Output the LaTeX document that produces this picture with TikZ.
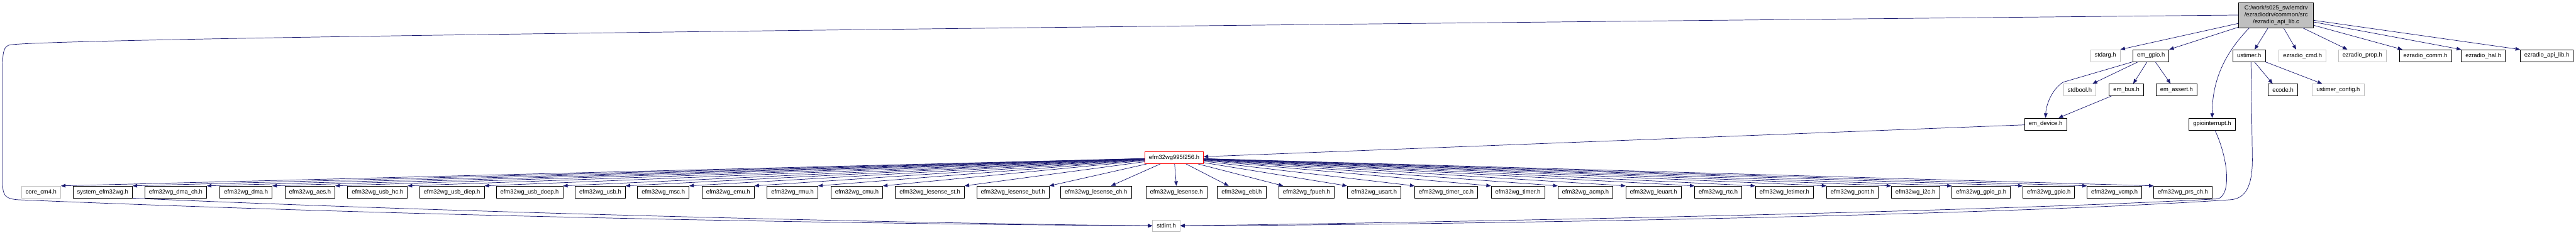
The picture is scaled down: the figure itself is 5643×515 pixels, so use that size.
\documentclass[tikz,border=0pt]{standalone}
\usepackage{fontspec}
\setmainfont{Liberation Sans}
\usetikzlibrary{arrows.meta}
\definecolor{edgeblue}{HTML}{191970}
\definecolor{boxgray}{HTML}{BFBFBF}

\begin{document}
\begin{tikzpicture}[x=1pt,y=-1pt]
\tikzstyle{every node}=[font=\fontsize{13}{15}\selectfont]
\tikzstyle{file}=[draw=black, fill=white, line width=1pt, minimum height=26pt, inner xsep=9pt, inner ysep=2pt]
\tikzstyle{extfile}=[file, draw=boxgray]
\tikzstyle{dep}=[draw=edgeblue, line width=1pt, -{Triangle[length=10pt,width=8pt]}]
\useasboundingbox (0,0) rectangle (5643,515);

% top file and what it includes
\node[file, fill=boxgray, align=center, minimum width=164pt, minimum height=55pt] (root) at (4986,33) {C:/work/s025\_sw/emdrv\\/ezradiodrv/common/src\\/ezradio\_api\_lib.c};
\node[extfile] (stdarg) at (4612,122) {stdarg.h};
\node[file] (emgpio) at (4712,122) {em\_gpio.h};
\node[file] (ustimer) at (4927,122) {ustimer.h};
\node[extfile] (ezcmd) at (5044,122) {ezradio\_cmd.h};
\node[extfile] (ezprop) at (5175,122) {ezradio\_prop.h};
\node[file] (ezcomm) at (5313,122) {ezradio\_comm.h};
\node[file] (ezhal) at (5440,122) {ezradio\_hal.h};
\node[file] (ezapi) at (5579,122) {ezradio\_api\_lib.h};

\node[extfile] (stdbool) at (4556,197) {stdbool.h};
\node[file] (embus) at (4658,197) {em\_bus.h};
\node[file] (emassert) at (4768,197) {em\_assert.h};
\node[file] (ecode) at (5001,197) {ecode.h};
\node[extfile] (ustcfg) at (5122,197) {ustimer\_config.h};

\node[file] (emdevice) at (4481,272) {em\_device.h};
\node[file] (gpioint) at (4846,272) {gpiointerrupt.h};

\node[file, draw=red] (efmdev) at (2572,346) {efm32wg995f256.h};

% device headers
\node[extfile] (corecm4) at (90,421) {core\_cm4.h};
\node[file] (sysefm) at (225,421) {system\_efm32wg.h};
\node[file] (dmach) at (385,421) {efm32wg\_dma\_ch.h};
\node[file] (dma) at (539,421) {efm32wg\_dma.h};
\node[file] (aes) at (679,421) {efm32wg\_aes.h};
\node[file] (usbhc) at (827,421) {efm32wg\_usb\_hc.h};
\node[file] (usbdiep) at (990,421) {efm32wg\_usb\_diep.h};
\node[file] (usbdoep) at (1160,421) {efm32wg\_usb\_doep.h};
\node[file] (usb) at (1315,421) {efm32wg\_usb.h};
\node[file] (msc) at (1453,421) {efm32wg\_msc.h};
\node[file] (emu) at (1595,421) {efm32wg\_emu.h};
\node[file] (rmu) at (1736,421) {efm32wg\_rmu.h};
\node[file] (cmu) at (1877,421) {efm32wg\_cmu.h};
\node[file] (lesst) at (2037,421) {efm32wg\_lesense\_st.h};
\node[file] (lesbuf) at (2219,421) {efm32wg\_lesense\_buf.h};
\node[file] (lesch) at (2401,421) {efm32wg\_lesense\_ch.h};
\node[file] (les) at (2577,421) {efm32wg\_lesense.h};
\node[file] (ebi) at (2720,421) {efm32wg\_ebi.h};
\node[file] (fpueh) at (2862,421) {efm32wg\_fpueh.h};
\node[file] (usart) at (3010,421) {efm32wg\_usart.h};
\node[file] (timercc) at (3168,421) {efm32wg\_timer\_cc.h};
\node[file] (timer) at (3325,421) {efm32wg\_timer.h};
\node[file] (acmp) at (3473,421) {efm32wg\_acmp.h};
\node[file] (leuart) at (3622,421) {efm32wg\_leuart.h};
\node[file] (rtc) at (3764,421) {efm32wg\_rtc.h};
\node[file] (letimer) at (3909,421) {efm32wg\_letimer.h};
\node[file] (pcnt) at (4058,421) {efm32wg\_pcnt.h};
\node[file] (itwoc) at (4196,421) {efm32wg\_i2c.h};
\node[file] (gpiop) at (4340,421) {efm32wg\_gpio\_p.h};
\node[file] (gpio) at (4488,421) {efm32wg\_gpio.h};
\node[file] (vcmp) at (4632,421) {efm32wg\_vcmp.h};
\node[file] (prsch) at (4782,421) {efm32wg\_prs\_ch.h};

\node[extfile] (stdint) at (2555,495) {stdint.h};

% includes of the top file
\draw[dep] (root) -- (stdarg.north east);
\draw[dep] (root) -- (emgpio.north east);
\draw[dep] (root) -- ([xshift=12pt]ustimer.north);
\draw[dep] (root) -- ([xshift=38pt]ezcmd.north west);
\draw[dep] (root) -- ([xshift=20pt]ezprop.north west);
\draw[dep] (root) -- ([xshift=7pt]ezcomm.north west);
\draw[dep] (root) -- (ezhal.north west);
\draw[dep] (root) -- (ezapi.north west);
\draw[dep] ([xshift=24pt]root.south west) .. controls (4870,120) and (4846,180) .. (gpioint.north);
\draw[dep] (root.west) .. controls (3000,52) and (200,80) .. (24,98) .. controls (9,100) and (6,112) .. (6,140) -- (6,405) .. controls (6,432) and (16,436) .. (40,438) .. controls (1000,478) and (2000,492) .. (stdint.west);

\draw[dep] (emgpio) -- ([xshift=-8pt]stdbool.north east);
\draw[dep] (emgpio) -- ([xshift=15pt]embus.north);
\draw[dep] (emgpio) -- ([xshift=32pt]emassert.north west);
\draw[dep] (emgpio.south west) -- (4520,180) .. controls (4495,195) and (4482,230) .. (emdevice.north);
\draw[dep] (embus) -- ([xshift=-18pt]emdevice.north east);
\draw[dep] (ustimer) -- ([xshift=10pt]ecode.north west);
\draw[dep] (ustimer) -- ([xshift=22pt]ustcfg.north west);
\draw[dep] ([xshift=4pt]ustimer.south) -- (4934,350) .. controls (4934,420) and (4912,436) .. (4885,438) .. controls (4300,477) and (3000,494) .. (stdint.east);
\draw[dep] ([xshift=6pt]gpioint.south) .. controls (4882,350) and (4888,428) .. (4858,436) .. controls (4300,467) and (3000,490) .. (stdint.east);
\draw[dep] (emdevice) -- (efmdev);
\draw[dep] (sysefm.south east) .. controls (1000,466) and (2000,490) .. (stdint.west);

% efm32wg995f256.h includes
\draw[dep] (efmdev) -- (corecm4.north east);
\draw[dep] (efmdev) -- (sysefm.north east);
\draw[dep] (efmdev) -- (dmach.north east);
\draw[dep] (efmdev) -- (dma.north east);
\draw[dep] (efmdev) -- (aes.north east);
\draw[dep] (efmdev) -- (usbhc.north east);
\draw[dep] (efmdev) -- (usbdiep.north east);
\draw[dep] (efmdev) -- (usbdoep.north east);
\draw[dep] (efmdev) -- (usb.north east);
\draw[dep] (efmdev) -- (msc.north east);
\draw[dep] (efmdev) -- (emu.north east);
\draw[dep] (efmdev) -- (rmu.north east);
\draw[dep] (efmdev) -- (cmu.north east);
\draw[dep] (efmdev) -- (lesst.north east);
\draw[dep] (efmdev) -- (lesbuf.north east);
\draw[dep] (efmdev) -- ([xshift=-45pt]lesch.north east);
\draw[dep] (efmdev) -- (les.north);
\draw[dep] (efmdev) -- ([xshift=25pt]ebi.north west);
\draw[dep] (efmdev) -- ([xshift=10pt]fpueh.north west);
\draw[dep] (efmdev) -- (usart.north west);
\draw[dep] (efmdev) -- (timercc.north west);
\draw[dep] (efmdev) -- (timer.north west);
\draw[dep] (efmdev) -- (acmp.north west);
\draw[dep] (efmdev) -- (leuart.north west);
\draw[dep] (efmdev) -- (rtc.north west);
\draw[dep] (efmdev) -- (letimer.north west);
\draw[dep] (efmdev) -- (pcnt.north west);
\draw[dep] (efmdev) -- (itwoc.north west);
\draw[dep] (efmdev) -- (gpiop.north west);
\draw[dep] (efmdev) -- (gpio.north west);
\draw[dep] (efmdev) -- (vcmp.north west);
\draw[dep] (efmdev) -- (prsch.north west);

\end{tikzpicture}
\end{document}
